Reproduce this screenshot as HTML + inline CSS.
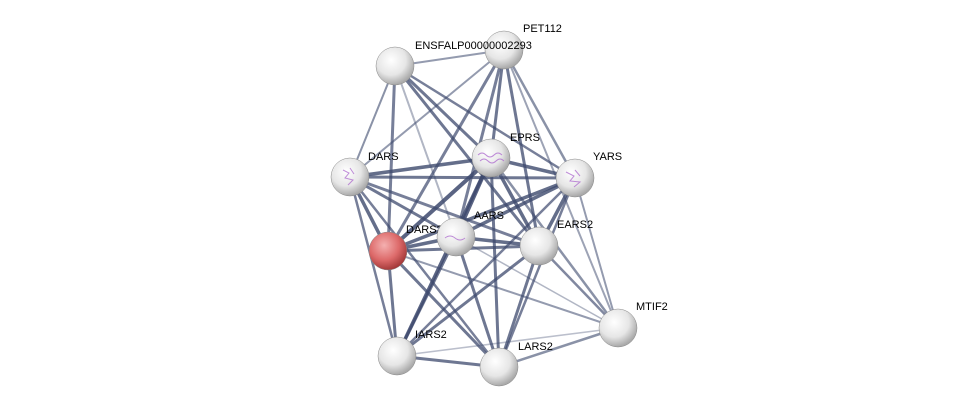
<!DOCTYPE html>
<html><head><meta charset="utf-8"><style>
html,body{margin:0;padding:0;background:#fff;}
svg{display:block;font-family:"Liberation Sans",sans-serif;}
</style></head><body>
<svg width="976" height="413" viewBox="0 0 976 413" xmlns="http://www.w3.org/2000/svg">
<defs>
<radialGradient id="g" cx="40%" cy="35%" r="65%">
<stop offset="0" stop-color="#ffffff"/><stop offset="0.6" stop-color="#e6e6e6"/><stop offset="1" stop-color="#a8a8a8"/>
</radialGradient>
<radialGradient id="r" cx="40%" cy="35%" r="65%">
<stop offset="0" stop-color="#f4b0b0"/><stop offset="0.6" stop-color="#dd6a6a"/><stop offset="1" stop-color="#a53a3a"/>
</radialGradient>
</defs>
<g stroke="#3e4a6e" stroke-linecap="round">
<line x1="395" y1="66" x2="504" y2="50" stroke-width="2" opacity="0.55"/>
<line x1="395" y1="66" x2="350" y2="177" stroke-width="2" opacity="0.6"/>
<line x1="395" y1="66" x2="491" y2="158" stroke-width="3" opacity="0.75"/>
<line x1="395" y1="66" x2="575" y2="178" stroke-width="2.5" opacity="0.7"/>
<line x1="395" y1="66" x2="456" y2="237" stroke-width="2" opacity="0.4"/>
<line x1="395" y1="66" x2="388" y2="251" stroke-width="3" opacity="0.7"/>
<line x1="395" y1="66" x2="539" y2="246" stroke-width="3" opacity="0.75"/>
<line x1="504" y1="50" x2="350" y2="177" stroke-width="2" opacity="0.55"/>
<line x1="504" y1="50" x2="491" y2="158" stroke-width="3" opacity="0.75"/>
<line x1="504" y1="50" x2="575" y2="178" stroke-width="2.5" opacity="0.6"/>
<line x1="504" y1="50" x2="456" y2="237" stroke-width="3" opacity="0.7"/>
<line x1="504" y1="50" x2="388" y2="251" stroke-width="3" opacity="0.7"/>
<line x1="504" y1="50" x2="539" y2="246" stroke-width="3" opacity="0.75"/>
<line x1="504" y1="50" x2="618" y2="328" stroke-width="2" opacity="0.5"/>
<line x1="350" y1="177" x2="491" y2="158" stroke-width="3.5" opacity="0.8"/>
<line x1="350" y1="177" x2="575" y2="178" stroke-width="3" opacity="0.75"/>
<line x1="350" y1="177" x2="456" y2="237" stroke-width="3" opacity="0.75"/>
<line x1="350" y1="177" x2="388" y2="251" stroke-width="3.5" opacity="0.8"/>
<line x1="350" y1="177" x2="539" y2="246" stroke-width="3" opacity="0.7"/>
<line x1="350" y1="177" x2="397" y2="356" stroke-width="2.5" opacity="0.7"/>
<line x1="350" y1="177" x2="499" y2="367" stroke-width="2.5" opacity="0.7"/>
<line x1="491" y1="158" x2="575" y2="178" stroke-width="3.5" opacity="0.8"/>
<line x1="491" y1="158" x2="456" y2="237" stroke-width="4" opacity="0.85"/>
<line x1="491" y1="158" x2="388" y2="251" stroke-width="4" opacity="0.85"/>
<line x1="491" y1="158" x2="539" y2="246" stroke-width="3.5" opacity="0.8"/>
<line x1="491" y1="158" x2="397" y2="356" stroke-width="3.5" opacity="0.85"/>
<line x1="491" y1="158" x2="499" y2="367" stroke-width="3" opacity="0.75"/>
<line x1="491" y1="158" x2="618" y2="328" stroke-width="2.5" opacity="0.6"/>
<line x1="575" y1="178" x2="456" y2="237" stroke-width="3.5" opacity="0.8"/>
<line x1="575" y1="178" x2="388" y2="251" stroke-width="3.5" opacity="0.8"/>
<line x1="575" y1="178" x2="539" y2="246" stroke-width="3.5" opacity="0.8"/>
<line x1="575" y1="178" x2="397" y2="356" stroke-width="2.5" opacity="0.7"/>
<line x1="575" y1="178" x2="499" y2="367" stroke-width="2.5" opacity="0.7"/>
<line x1="575" y1="178" x2="618" y2="328" stroke-width="2" opacity="0.55"/>
<line x1="456" y1="237" x2="388" y2="251" stroke-width="3.5" opacity="0.8"/>
<line x1="456" y1="237" x2="539" y2="246" stroke-width="3.5" opacity="0.8"/>
<line x1="456" y1="237" x2="397" y2="356" stroke-width="3" opacity="0.75"/>
<line x1="456" y1="237" x2="499" y2="367" stroke-width="3" opacity="0.75"/>
<line x1="456" y1="237" x2="618" y2="328" stroke-width="1.5" opacity="0.4"/>
<line x1="388" y1="251" x2="539" y2="246" stroke-width="3" opacity="0.75"/>
<line x1="388" y1="251" x2="397" y2="356" stroke-width="3" opacity="0.75"/>
<line x1="388" y1="251" x2="499" y2="367" stroke-width="3" opacity="0.75"/>
<line x1="388" y1="251" x2="618" y2="328" stroke-width="2" opacity="0.55"/>
<line x1="539" y1="246" x2="397" y2="356" stroke-width="3" opacity="0.75"/>
<line x1="539" y1="246" x2="499" y2="367" stroke-width="3" opacity="0.75"/>
<line x1="539" y1="246" x2="618" y2="328" stroke-width="2.5" opacity="0.65"/>
<line x1="397" y1="356" x2="499" y2="367" stroke-width="3" opacity="0.75"/>
<line x1="397" y1="356" x2="618" y2="328" stroke-width="1.5" opacity="0.35"/>
<line x1="499" y1="367" x2="618" y2="328" stroke-width="2.5" opacity="0.6"/>
</g>
<g font-size="11" fill="#000">
<text x="406" y="233">DARS2</text>
</g>
<g stroke="#888" stroke-width="0.5">
<circle cx="395" cy="66" r="19" fill="url(#g)"/>
<circle cx="504" cy="50" r="19" fill="url(#g)"/>
<circle cx="350" cy="177" r="19" fill="url(#g)"/>
<circle cx="491" cy="158" r="19" fill="url(#g)"/>
<circle cx="575" cy="178" r="19" fill="url(#g)"/>
<circle cx="388" cy="251" r="19" fill="url(#r)"/>
<circle cx="456" cy="237" r="19" fill="url(#g)"/>
<circle cx="539" cy="246" r="19" fill="url(#g)"/>
<circle cx="618" cy="328" r="19" fill="url(#g)"/>
<circle cx="397" cy="356" r="19" fill="url(#g)"/>
<circle cx="499" cy="367" r="19" fill="url(#g)"/>
</g>
<g stroke="#b070d0" stroke-width="1" fill="none" opacity="0.8">
<path d="M343 170 l6 3 l-4 5 l8 2 l-5 5 M350 168 l4 6"/>
<path d="M478 155 q4 -4 8 0 q4 4 8 0 q4 -4 8 0 M480 161 q4 -4 8 0 q4 4 8 0 q4 -4 8 0"/>
<path d="M566 172 l8 4 l-4 5 l10 1 l-6 5 M575 170 l5 6"/>
<path d="M445 238 q5 -4 10 0 q5 4 10 0"/>
</g>
<g font-size="11" fill="#000">
<text x="415" y="49">ENSFALP00000002293</text>
<text x="523" y="32">PET112</text>
<text x="368" y="160">DARS</text>
<text x="510" y="141">EPRS</text>
<text x="593" y="160">YARS</text>
<text x="474" y="219">AARS</text>
<text x="557" y="228">EARS2</text>
<text x="636" y="310">MTIF2</text>
<text x="415" y="338">IARS2</text>
<text x="518" y="350">LARS2</text>
</g>
</svg>
</body></html>
